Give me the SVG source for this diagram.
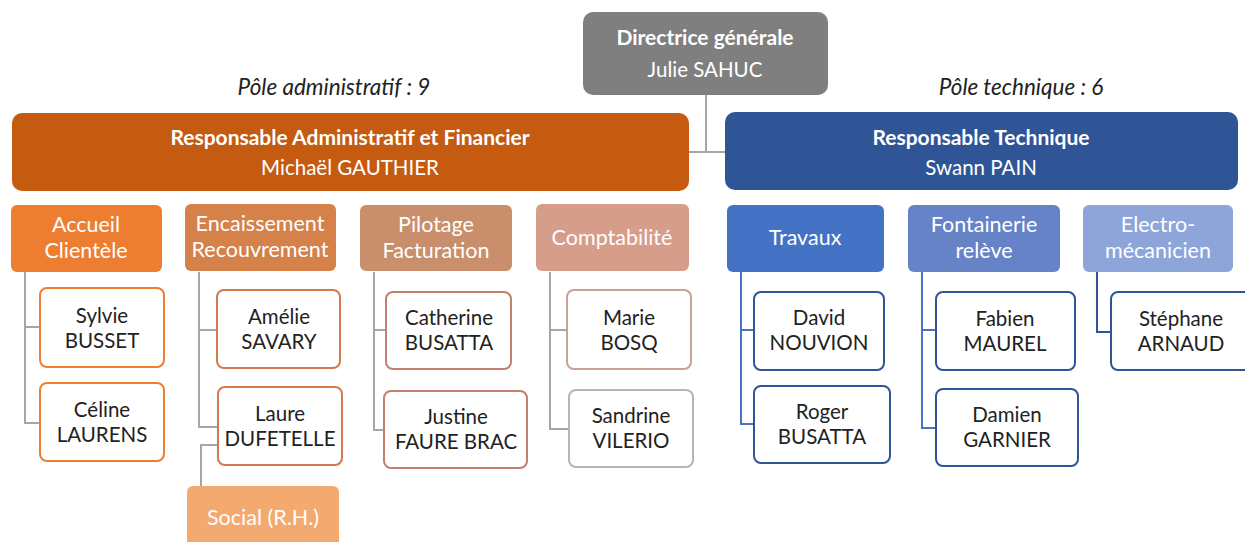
<svg xmlns="http://www.w3.org/2000/svg" width="1245" height="542" viewBox="0 0 1245 542">
<style>
text{font-family:Lato,"Open Sans","Liberation Sans",sans-serif;text-anchor:middle}
.w{fill:#fff;font-size:20.5px}
.s{fill:#fff;font-size:21.5px}
.wb{fill:#fff;font-size:21px;font-weight:bold}
.p{fill:#222;font-size:20.5px}
.it{fill:#222;font-size:22.5px;font-style:italic}
.pb{fill:#fff;stroke-width:2}
.cg{stroke:#a6a6a6;stroke-width:2;fill:none}
.cb{stroke:#4a72c4;stroke-width:2;fill:none}
</style>
<g id="connectors">
<path class="cg" d="M706 95V152M688 152H725"/>
<path class="cg" d="M25 272V423H40M25 327H40"/>
<path class="cg" d="M199 272V427H218M199 330H217"/>
<path class="cg" d="M218 445H201V486"/>
<path class="cg" d="M374 272V430H384M374 330H386"/>
<path class="cg" d="M550 272V429H569M550 330H567"/>
<path class="cb" d="M741 272V424H754M741 330H754"/>
<path class="cb" d="M922 272V428H936M922 330H936"/>
<path class="cb" d="M1097 272V332H1111" style="stroke:#2f5597"/>
</g>
<g id="labels">
<text class="it" x="334" y="95">Pôle administratif : 9</text>
<text class="it" x="1021" y="95">Pôle technique : 6</text>
</g>
<g id="dg">
<rect x="583" y="12" width="245" height="83" rx="10" fill="#7f7f7f"/>
<text class="wb" x="705" y="45">Directrice générale</text>
<text class="w" x="705" y="77">Julie SAHUC</text>
</g>
<g id="raf">
<rect x="12" y="113" width="677" height="78" rx="10" fill="#c55a11"/>
<text class="wb" x="350" y="145">Responsable Administratif et Financier</text>
<text class="w" x="350" y="175">Michaël GAUTHIER</text>
</g>
<g id="rt">
<rect x="725" y="112" width="513" height="78" rx="10" fill="#2f5597"/>
<text class="wb" x="981" y="145">Responsable Technique</text>
<text class="w" x="981" y="175">Swann PAIN</text>
</g>
<g id="accueil">
<rect x="11" y="205" width="151" height="67" rx="6" fill="#ed7d31"/>
<text class="s" x="86" y="232">Accueil</text>
<text class="s" x="86" y="258">Clientèle</text>
</g>
<g id="encaissement">
<rect x="185" y="204" width="151" height="67" rx="6" fill="#d5814a"/>
<text class="s" x="260" y="231">Encaissement</text>
<text class="s" x="260" y="257">Recouvrement</text>
</g>
<g id="pilotage">
<rect x="360" y="205" width="152" height="66" rx="6" fill="#c98e6b"/>
<text class="s" x="436" y="232">Pilotage</text>
<text class="s" x="436" y="258">Facturation</text>
</g>
<g id="comptabilite">
<rect x="536" y="204" width="153" height="67" rx="6" fill="#d69d8a"/>
<text class="s" x="612" y="245">Comptabilité</text>
</g>
<g id="social">
<rect x="187" y="486" width="152" height="66" rx="6" fill="#f4a96f"/>
<text class="s" x="263" y="525">Social (R.H.)</text>
</g>
<g id="travaux">
<rect x="727" y="205" width="157" height="67" rx="6" fill="#4472c4"/>
<text class="s" x="805" y="245">Travaux</text>
</g>
<g id="fontainerie">
<rect x="908" y="205" width="152" height="67" rx="6" fill="#6783c7"/>
<text class="s" x="984" y="232">Fontainerie</text>
<text class="s" x="984" y="258">relève</text>
</g>
<g id="electro">
<rect x="1083" y="205" width="150" height="67" rx="6" fill="#8ea5d9"/>
<text class="s" x="1158" y="232">Electro-</text>
<text class="s" x="1158" y="258">mécanicien</text>
</g>
<g id="sylvie">
<rect class="pb" x="40" y="288" width="124" height="79" rx="7" stroke="#ed7d31"/>
<text class="p" x="102" y="323">Sylvie</text>
<text class="p" x="102" y="348">BUSSET</text>
</g>
<g id="celine">
<rect class="pb" x="40" y="383" width="124" height="78" rx="7" stroke="#ed7d31"/>
<text class="p" x="102" y="417">Céline</text>
<text class="p" x="102" y="442">LAURENS</text>
</g>
<g id="amelie">
<rect class="pb" x="217" y="290" width="123" height="78" rx="7" stroke="#d37a4e"/>
<text class="p" x="279" y="324">Amélie</text>
<text class="p" x="279" y="349">SAVARY</text>
</g>
<g id="laure">
<rect class="pb" x="218" y="387" width="124" height="78" rx="7" stroke="#d37a4e"/>
<text class="p" x="280" y="421">Laure</text>
<text class="p" x="280" y="446">DUFETELLE</text>
</g>
<g id="catherine">
<rect class="pb" x="386" y="292" width="125" height="77" rx="7" stroke="#c47f6e"/>
<text class="p" x="449" y="325">Catherine</text>
<text class="p" x="449" y="350">BUSATTA</text>
</g>
<g id="justine">
<rect class="pb" x="384" y="391" width="143" height="77" rx="7" stroke="#c47f6e"/>
<text class="p" x="456" y="424">Justine</text>
<text class="p" x="456" y="449">FAURE BRAC</text>
</g>
<g id="marie">
<rect class="pb" x="567" y="290" width="124" height="79" rx="7" stroke="#c9a09a"/>
<text class="p" x="629" y="325">Marie</text>
<text class="p" x="629" y="350">BOSQ</text>
</g>
<g id="sandrine">
<rect class="pb" x="569" y="390" width="124" height="77" rx="7" stroke="#b5b5b5"/>
<text class="p" x="631" y="423">Sandrine</text>
<text class="p" x="631" y="448">VILERIO</text>
</g>
<g id="david">
<rect class="pb" x="754" y="292" width="130" height="78" rx="7" stroke="#2f5597"/>
<text class="p" x="819" y="325">David</text>
<text class="p" x="819" y="350">NOUVION</text>
</g>
<g id="roger">
<rect class="pb" x="754" y="386" width="136" height="77" rx="7" stroke="#2f5597"/>
<text class="p" x="822" y="419">Roger</text>
<text class="p" x="822" y="444">BUSATTA</text>
</g>
<g id="fabien">
<rect class="pb" x="936" y="292" width="139" height="78" rx="7" stroke="#2f5597"/>
<text class="p" x="1005" y="326">Fabien</text>
<text class="p" x="1005" y="351">MAUREL</text>
</g>
<g id="damien">
<rect class="pb" x="936" y="389" width="142" height="77" rx="7" stroke="#2f5597"/>
<text class="p" x="1007" y="422">Damien</text>
<text class="p" x="1007" y="447">GARNIER</text>
</g>
<g id="stephane">
<rect class="pb" x="1111" y="292" width="140" height="78" rx="7" stroke="#2f5597"/>
<text class="p" x="1181" y="326">Stéphane</text>
<text class="p" x="1181" y="351">ARNAUD</text>
</g>
</svg>
